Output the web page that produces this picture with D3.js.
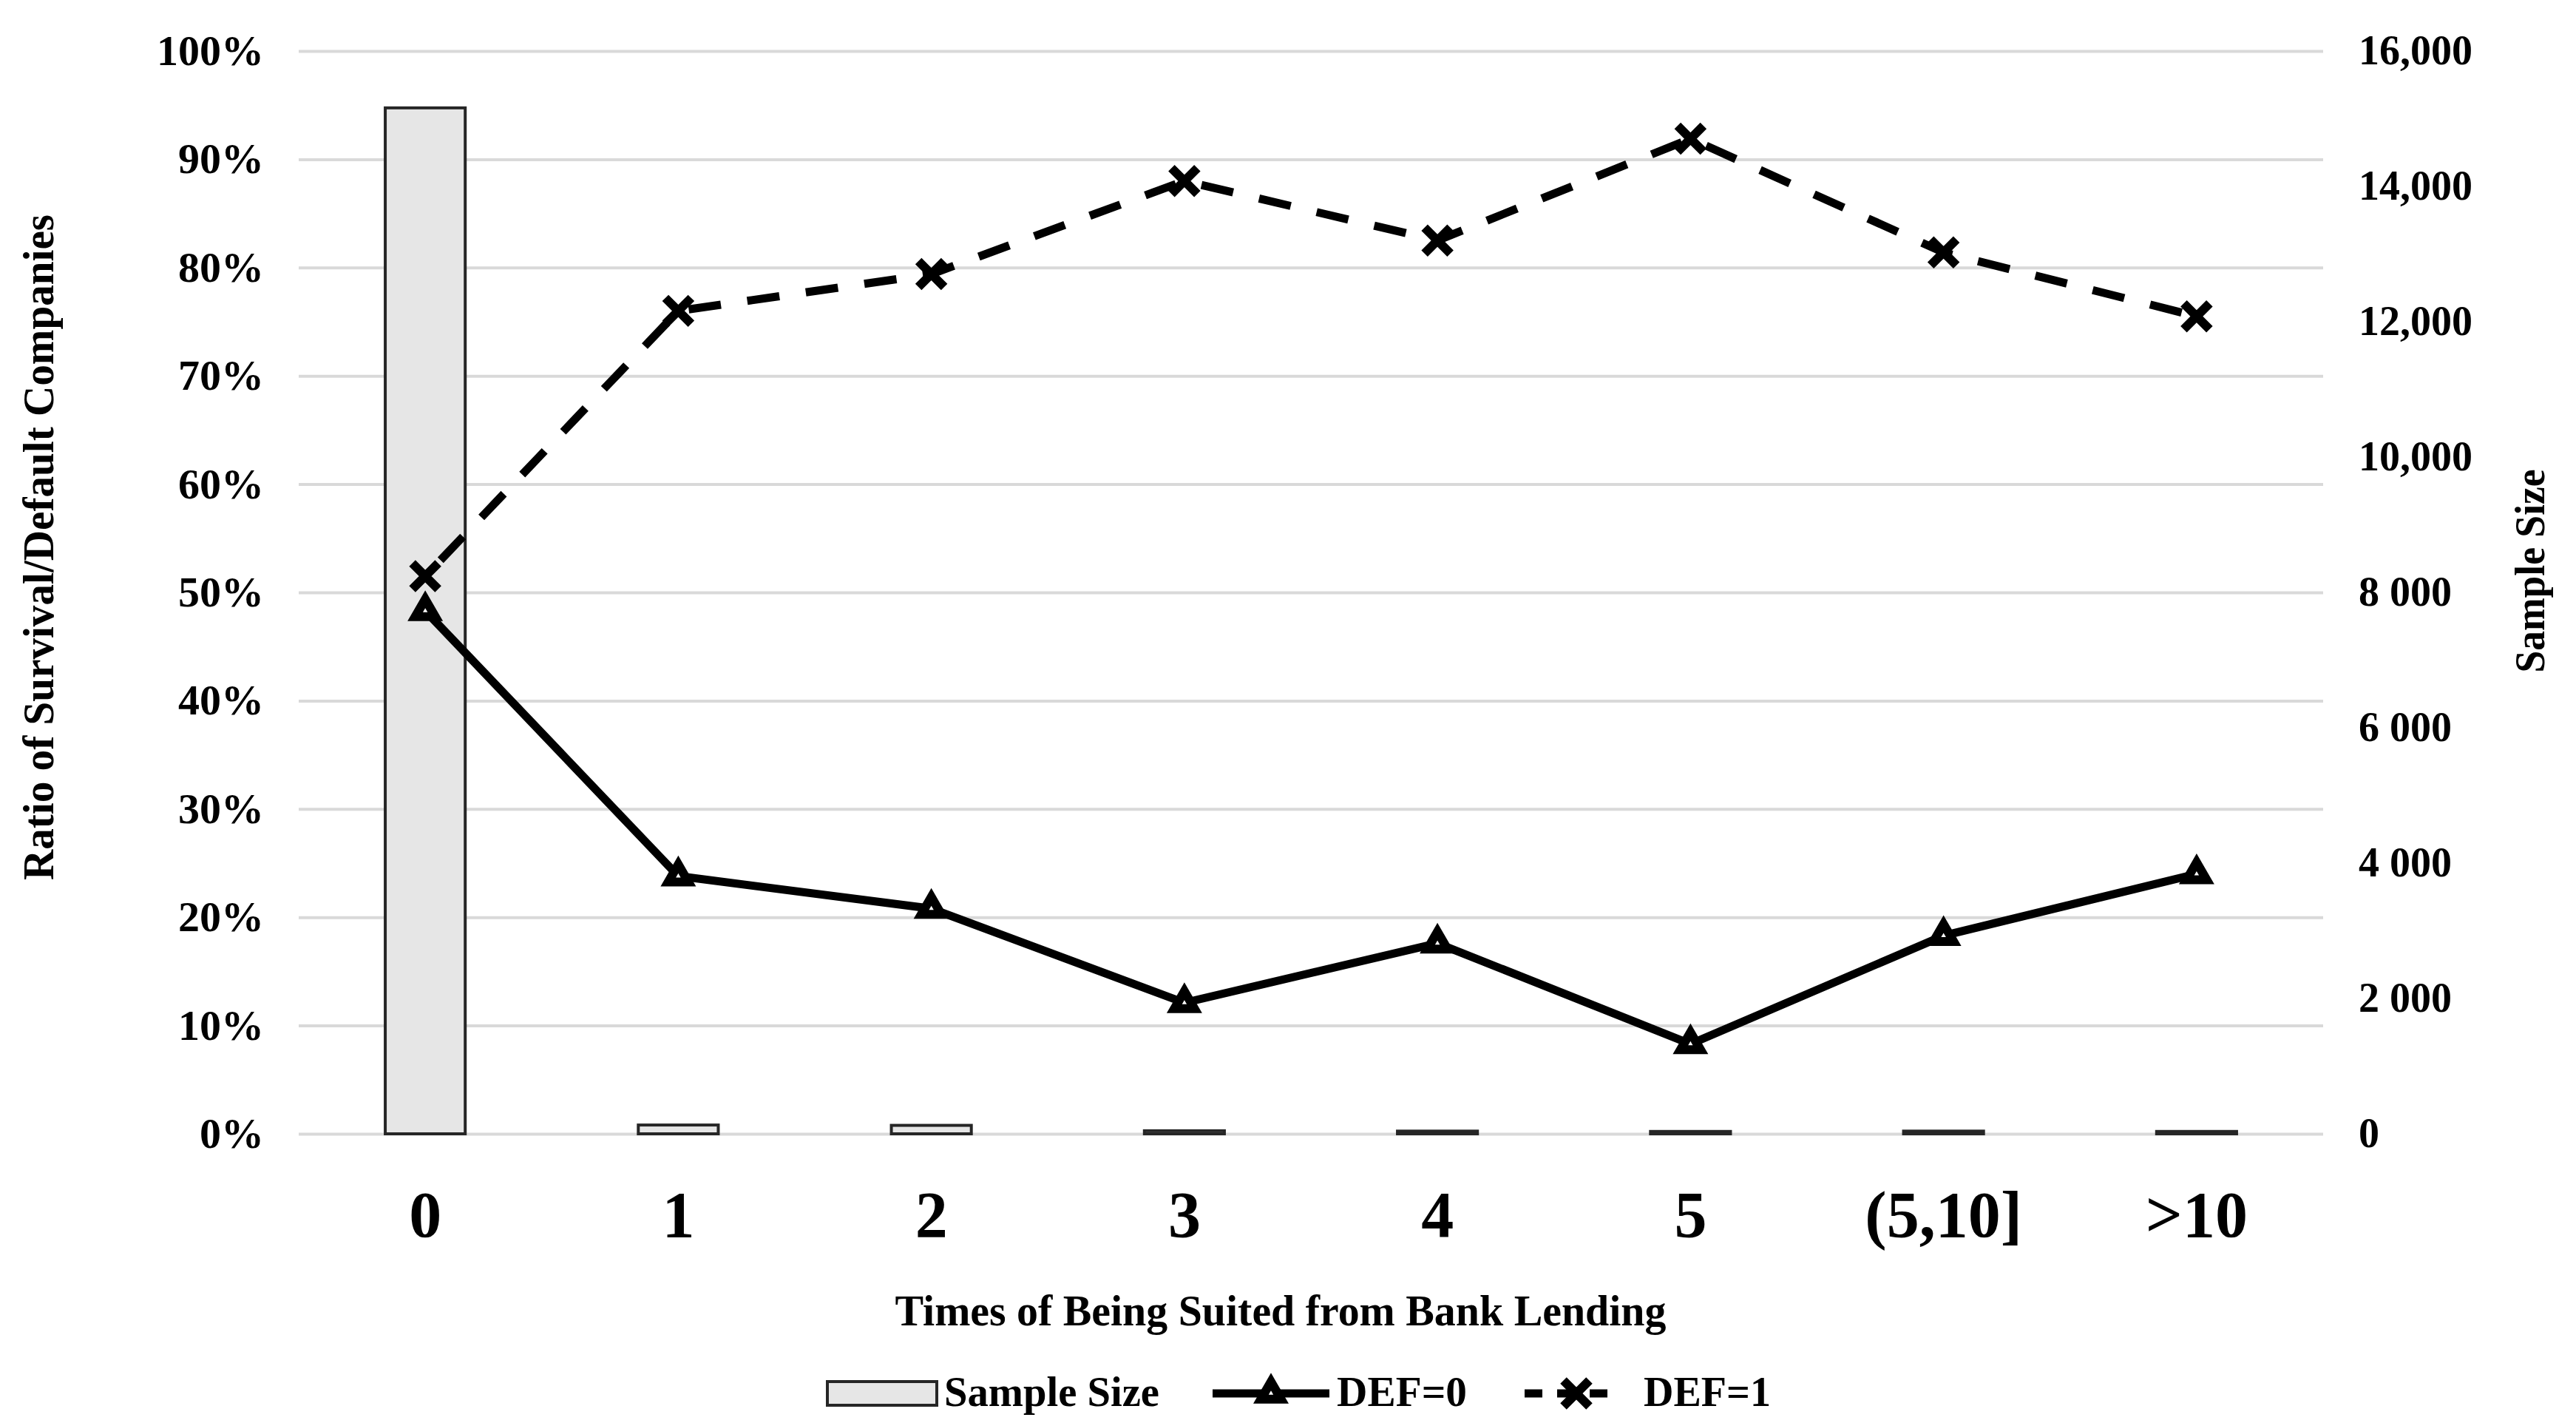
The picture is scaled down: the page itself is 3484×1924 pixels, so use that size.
<!DOCTYPE html>
<html>
<head>
<meta charset="utf-8">
<script src="https://cdn.jsdelivr.net/npm/d3@7"></script>
<style>
  body { margin: 0; background: #fff; }
  svg { display: block; font-family: "Liberation Serif", "Times New Roman", serif; font-weight: bold; }
</style>
</head>
<body>
<div id="chart"></div>
<script>
// data
const categories = ['0', '1', '2', '3', '4', '5', '(5,10]', '>10'];
const sampleSize = [15160, 130, 125, 45, 40, 35, 40, 35];
const def0 = [0.483, 0.238, 0.208, 0.121, 0.176, 0.083, 0.183, 0.240];
const def1 = [0.515, 0.760, 0.794, 0.880, 0.825, 0.919, 0.814, 0.755];
const pctTicks = [0, 0.1, 0.2, 0.3, 0.4, 0.5, 0.6, 0.7, 0.8, 0.9, 1];
const sizeTicks = [0, 2000, 4000, 6000, 8000, 10000, 12000, 14000, 16000];
const sizeTickLabels = ['0', '2 000', '4 000', '6 000', '8 000', '10,000', '12,000', '14,000', '16,000'];

const width = 3484, height = 1924;
const plotLeft = 404, plotRight = 3142, plotTop = 69, plotBottom = 1533;

const svg = d3.select('#chart')
    .append('svg')
    .attr('width', width)
    .attr('height', height);

const x = d3.scaleBand().domain(categories).range([plotLeft, plotRight]);
const bw = x.bandwidth();
const cx = c => x(c) + bw / 2;
const yL = d3.scaleLinear().domain([0, 1]).range([plotBottom, plotTop]);
const yR = d3.scaleLinear().domain([0, 16000]).range([plotBottom, plotTop]);

// gridlines
const grid = svg.append('g')
    .attr('transform', `translate(${plotLeft},0)`)
    .call(d3.axisLeft(yL).tickValues(pctTicks).tickSize(-(plotRight - plotLeft)).tickFormat(''));
grid.select('.domain').remove();
grid.selectAll('line').attr('stroke', '#d9d9d9').attr('stroke-width', 4);

// left axis labels
const axL = svg.append('g')
    .attr('transform', `translate(${plotLeft},0)`)
    .call(d3.axisLeft(yL).tickValues(pctTicks).tickFormat(d3.format('.0%')).tickSize(0).tickPadding(47));
axL.attr('font-family', null).attr('font-size', 58);
axL.select('.domain').remove();
axL.selectAll('text').attr('fill', '#000');

// right axis labels
const axR = svg.append('g')
    .attr('transform', `translate(${plotRight},0)`)
    .call(d3.axisRight(yR).tickValues(sizeTicks).tickFormat((d, i) => sizeTickLabels[i]).tickSize(0).tickPadding(48));
axR.attr('font-family', null).attr('font-size', 56);
axR.select('.domain').remove();
axR.selectAll('text').attr('fill', '#000');

// bottom axis labels
const axB = svg.append('g')
    .attr('transform', `translate(0,${plotBottom})`)
    .call(d3.axisBottom(x).tickSize(0));
axB.attr('font-family', null).attr('font-size', 88);
axB.select('.domain').remove();
axB.selectAll('text').attr('fill', '#000').attr('y', 139).attr('dy', 0);

// bars
const barW = bw * 0.316;
svg.append('g').selectAll('rect')
    .data(sampleSize)
    .enter()
    .append('rect')
    .attr('x', (d, i) => cx(categories[i]) - barW / 2)
    .attr('y', d => yR(d))
    .attr('width', barW)
    .attr('height', d => yR(0) - yR(d))
    .attr('fill', '#e6e6e6')
    .attr('stroke', '#262626')
    .attr('stroke-width', 4);

// lines
const line = d3.line().x((d, i) => cx(categories[i])).y(d => yL(d));

svg.append('path')
    .datum(def1)
    .attr('d', line)
    .attr('fill', 'none')
    .attr('stroke', '#000')
    .attr('stroke-width', 11)
    .attr('stroke-dasharray', '44 36')
    .attr('stroke-dashoffset', -30);

svg.append('path')
    .datum(def0)
    .attr('d', line)
    .attr('fill', 'none')
    .attr('stroke', '#000')
    .attr('stroke-width', 11);

const tri = d3.symbol(d3.symbolTriangle, 320);
const cross = d3.symbol(d3.symbolX, 800);

svg.append('g').selectAll('path')
    .data(def0)
    .enter()
    .append('path')
    .attr('d', tri)
    .attr('transform', (d, i) => `translate(${cx(categories[i])},${yL(d)})`)
    .attr('fill', '#fff')
    .attr('stroke', '#000')
    .attr('stroke-width', 12);

svg.append('g').selectAll('path')
    .data(def1)
    .enter()
    .append('path')
    .attr('d', cross)
    .attr('transform', (d, i) => `translate(${cx(categories[i])},${yL(d)})`)
    .attr('fill', 'none')
    .attr('stroke', '#000')
    .attr('stroke-width', 12);

// axis titles
svg.append('text')
    .attr('transform', 'translate(72,740) rotate(-90)')
    .attr('text-anchor', 'middle')
    .attr('font-size', 60)
    .attr('textLength', 900)
    .attr('lengthAdjust', 'spacingAndGlyphs')
    .text('Ratio of Survival/Default Companies');

svg.append('text')
    .attr('transform', 'translate(3441,772) rotate(-90)')
    .attr('text-anchor', 'middle')
    .attr('font-size', 56)
    .attr('textLength', 275)
    .attr('lengthAdjust', 'spacingAndGlyphs')
    .text('Sample Size');

svg.append('text')
    .attr('x', 1732)
    .attr('y', 1792)
    .attr('text-anchor', 'middle')
    .attr('font-size', 60)
    .attr('textLength', 1043)
    .attr('lengthAdjust', 'spacingAndGlyphs')
    .text('Times of Being Suited from Bank Lending');

// legend
const lg = svg.append('g');
const ly = 1884;
lg.append('rect')
    .attr('x', 1119).attr('y', 1868).attr('width', 148).attr('height', 32)
    .attr('fill', '#e6e6e6').attr('stroke', '#262626').attr('stroke-width', 4);
lg.append('text').attr('x', 1277).attr('y', 1901).attr('font-size', 58)
    .attr('textLength', 291).attr('lengthAdjust', 'spacingAndGlyphs').text('Sample Size');

lg.append('line').attr('x1', 1640).attr('x2', 1798).attr('y1', ly).attr('y2', ly)
    .attr('stroke', '#000').attr('stroke-width', 11);
lg.append('path').attr('d', tri).attr('transform', `translate(1719,${ly})`)
    .attr('fill', '#fff').attr('stroke', '#000').attr('stroke-width', 12);
lg.append('text').attr('x', 1808).attr('y', 1901).attr('font-size', 58)
    .attr('textLength', 176).attr('lengthAdjust', 'spacingAndGlyphs').text('DEF=0');

lg.append('line').attr('x1', 2062).attr('x2', 2178).attr('y1', ly).attr('y2', ly)
    .attr('stroke', '#000').attr('stroke-width', 11).attr('stroke-dasharray', '24 20');
lg.append('path').attr('d', cross).attr('transform', `translate(2132,${ly})`)
    .attr('fill', 'none').attr('stroke', '#000').attr('stroke-width', 12);
lg.append('text').attr('x', 2223).attr('y', 1901).attr('font-size', 58)
    .attr('textLength', 172).attr('lengthAdjust', 'spacingAndGlyphs').text('DEF=1');
</script>
</body>
</html>
